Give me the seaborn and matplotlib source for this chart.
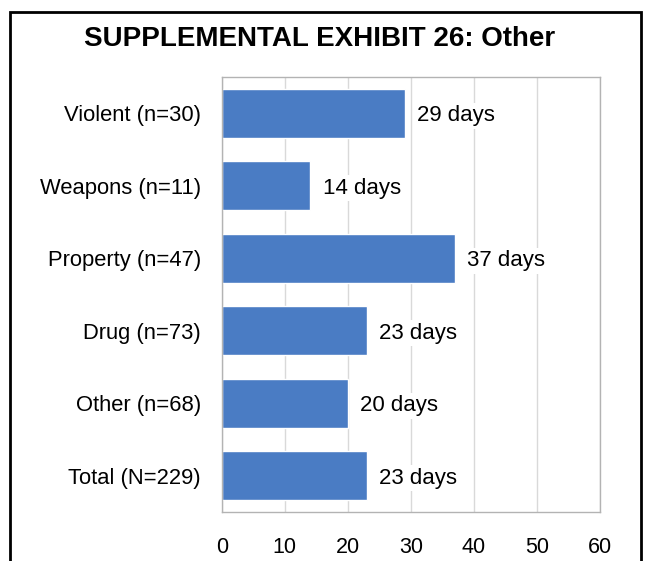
import matplotlib
matplotlib.use("Agg")
import matplotlib.pyplot as plt
import seaborn as sns
import pandas as pd
from matplotlib.patches import Rectangle

categories = ["Violent (n=30)", "Weapons (n=11)", "Property (n=47)",
              "Drug (n=73)", "Other (n=68)", "Total (N=229)"]
days = [29, 14, 37, 23, 20, 23]
xticks = [0, 10, 20, 30, 40, 50, 60]

df = pd.DataFrame({"category": categories, "days": days})

sns.set_style("white")
plt.rcParams["font.family"] = ["Liberation Sans", "DejaVu Sans"]
plt.rcParams["text.color"] = "black"
plt.rcParams["xtick.color"] = "black"
plt.rcParams["ytick.color"] = "black"

fig = plt.figure(figsize=(6.45, 5.61), dpi=100)
ax = fig.add_axes([0.344, 0.0873, 0.586, 0.7754])

sns.barplot(data=df, x="days", y="category", orient="h", color="#4a7cc4",
            saturation=1, width=0.67, ax=ax, zorder=2)

ax.set_xlim(0, 60)
ax.set_ylim(5.5, -0.5)
ax.set_xticks(xticks)
ax.xaxis.grid(True, color="#d9d9d9", linewidth=1, zorder=0)
ax.set_axisbelow(True)
ax.set_xlabel("")
ax.set_ylabel("")
ax.tick_params(axis="x", length=0, pad=18, labelsize=15.5, labelcolor="black")
ax.tick_params(axis="y", length=0, pad=15, labelsize=15.8, labelcolor="black")
for s in ax.spines.values():
    s.set_visible(True)
    s.set_color("#b3b3b3")
    s.set_linewidth(1)

for cont in ax.containers:
    texts = ax.bar_label(cont, labels=[f"{v} days" for v in days], padding=9,
                         fontsize=16, color="black",
                         bbox=dict(facecolor="white", edgecolor="none", pad=2))
    for t in texts:
        t.set_verticalalignment("center_baseline")

fig.text(0.495, 0.93, "SUPPLEMENTAL EXHIBIT 26: Other", ha="center",
         va="center", fontsize=20, fontweight="bold", color="black")

# outer frame
fig.patches.append(Rectangle((10 / 645, -0.05), 631 / 645, 1.05 - 12 / 561,
                             transform=fig.transFigure, fill=False,
                             edgecolor="black", linewidth=2))

fig.savefig("out.png", dpi=100)
